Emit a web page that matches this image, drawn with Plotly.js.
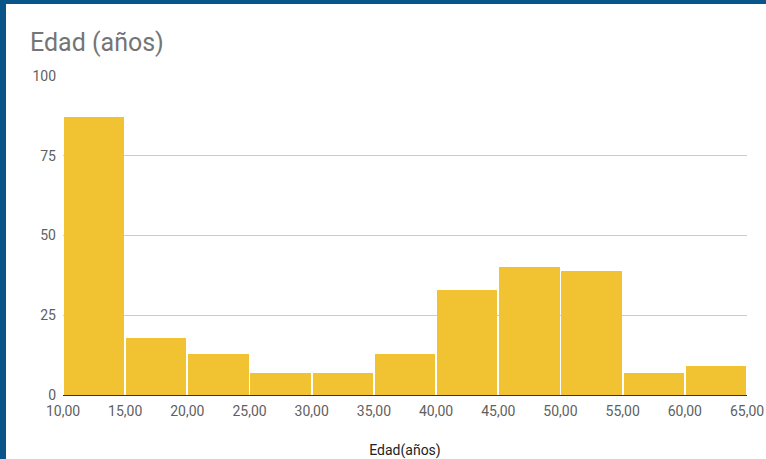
<!DOCTYPE html>
<html>
<head>
<meta charset="utf-8">
<script src="https://cdn.plot.ly/plotly-3.0.1.min.js"></script>
<style>
html,body{margin:0;padding:0;background:#fff;}
#wrap{width:760px;height:455px;border-left:6px solid #09558a;border-top:4px solid #09558a;background:#fff;}
#chart{width:760px;height:455px;}
</style>
</head>
<body>
<div id="wrap"><div id="chart"></div></div>
<script>
const binStarts = [10, 15, 20, 25, 30, 35, 40, 45, 50, 55, 60];
const binWidth = 5;
const counts = [87, 18, 13, 7, 7, 13, 33, 40, 39, 7, 9];
const xTicks = [10, 15, 20, 25, 30, 35, 40, 45, 50, 55, 60, 65];
const yTicks = [0, 25, 50, 75, 100];

const centers = binStarts.map(s => s + binWidth / 2);

const trace = {
  type: 'bar',
  x: centers,
  y: counts,
  width: binStarts.map(() => binWidth * 0.97),
  marker: {color: '#f1c232'},
  hoverinfo: 'x+y'
};

const layout = {
  width: 760, height: 455,
  margin: {l: 57, r: 19, t: 72, b: 64},
  paper_bgcolor: '#fff', plot_bgcolor: '#fff',
  separators: ',.',
  font: {family: 'Roboto, Arial, sans-serif', color: '#5f5f5f', size: 13},
  title: {
    text: 'Edad (años)',
    font: {family: 'Roboto, Arial, sans-serif', size: 25, color: '#757575'},
    x: 24 / 760, xref: 'container', xanchor: 'left',
    y: 1 - 38 / 455, yref: 'container', yanchor: 'middle'
  },
  xaxis: {
    range: [10, 65],
    tickvals: xTicks,
    tickformat: '.2f',
    showgrid: false,
    zeroline: false,
    showline: true, linecolor: '#333', linewidth: 1,
    ticks: '',
    ticklabelstandoff: 3,
    tickfont: {size: 14, color: '#5f5f5f'},
    title: {text: 'Edad(años)', font: {size: 14, color: '#222'}, standoff: 27},
    fixedrange: true
  },
  yaxis: {
    range: [0, 100],
    tickvals: yTicks,
    showgrid: true, gridcolor: '#cccccc', gridwidth: 1,
    zeroline: false,
    showline: false,
    ticks: '',
    ticklabelstandoff: 6,
    tickfont: {size: 14, color: '#5f5f5f'},
    fixedrange: true
  },
  showlegend: false,
  bargap: 0
};

Plotly.newPlot('chart', [trace], layout, {displayModeBar: false, staticPlot: true});
</script>
</body>
</html>
